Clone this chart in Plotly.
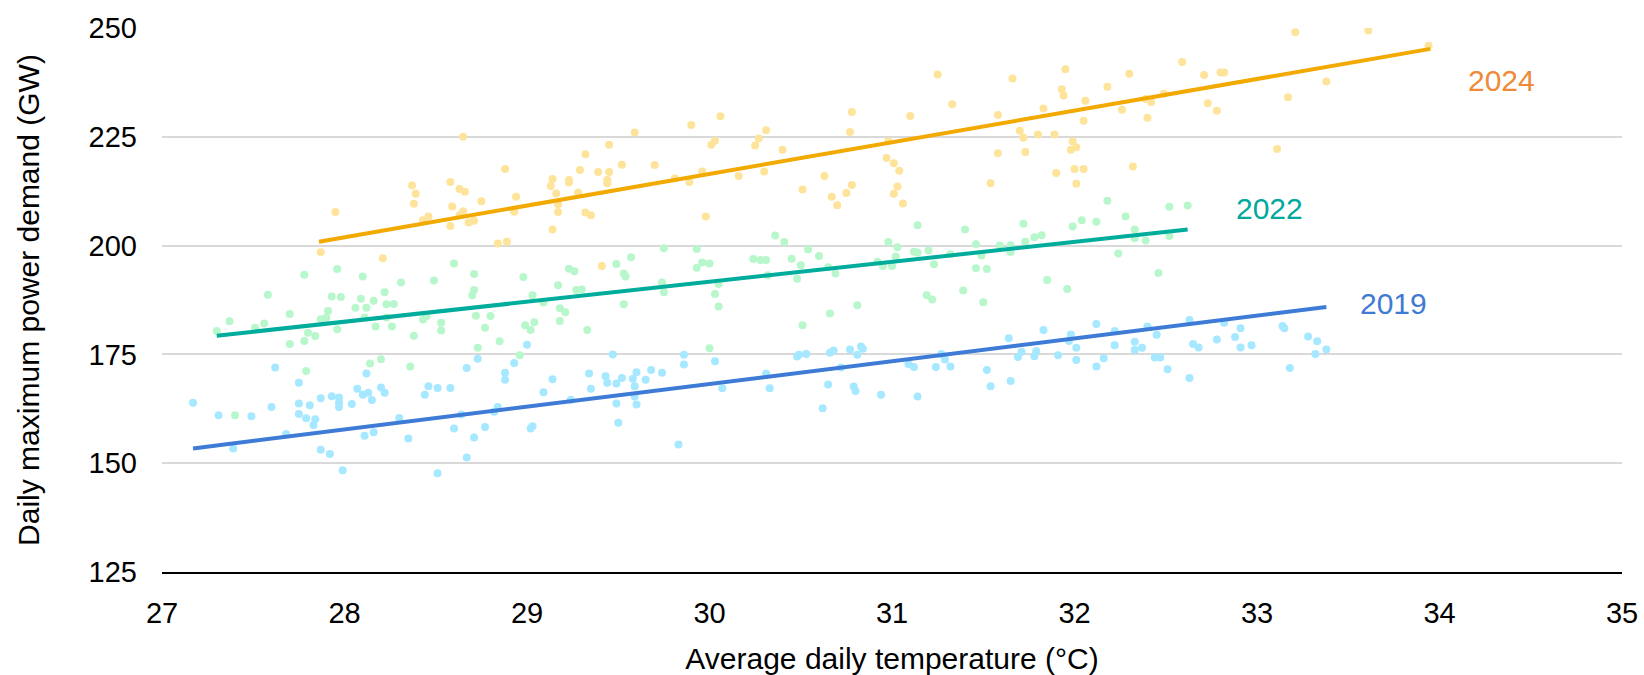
import plotly.graph_objects as go

# ---------------- data ----------------
temp_2019 = [27.62, 27.17, 27.31, 27.49, 27.60, 27.75, 28.12, 28.07, 27.75, 27.81, 27.87, 27.93, 27.97, 27.97, 27.97,
             28.04, 28.10, 28.13, 28.15, 27.75, 27.79, 27.84, 27.83, 27.68, 28.11, 28.16, 27.39, 27.87, 27.92, 27.99,
             29.00, 28.73, 28.67, 28.93, 28.88, 28.88, 29.14, 29.09, 28.20, 28.22, 28.46, 28.51, 28.58, 28.44, 28.30,
             28.64, 28.84, 28.82, 29.24, 28.35, 28.60, 28.71, 28.77, 29.02, 29.03, 28.67, 28.51,
             29.47, 29.86, 29.86, 30.03, 29.34, 29.35, 29.43, 29.44, 29.49, 29.52, 29.58, 29.60, 29.59, 29.59, 29.65,
             29.68, 29.74, 29.49, 29.60, 29.50, 29.83, 30.07, 30.31, 30.33,
             30.48, 30.49, 30.53, 30.66, 30.68, 30.77, 30.81, 30.83, 30.84, 30.72, 31.09, 31.12, 31.24, 31.27, 31.29,
             31.32, 31.52, 31.54, 30.65, 30.79, 30.80, 30.94, 31.14, 30.62,
             32.63, 32.12, 31.83, 31.64, 31.98, 31.97, 32.22, 32.22, 32.01, 32.33, 32.33, 32.37, 32.40, 32.45, 31.71,
             31.69, 31.79, 31.78, 31.91, 32.01, 32.16, 32.12, 32.44, 32.47, 32.51, 32.65, 32.63, 31.65,
             32.82, 32.91, 32.88, 32.78, 32.68, 32.91, 32.97, 33.14, 33.15, 33.28, 33.33, 33.32, 33.38, 33.18]
demand_2019 = [172.0, 163.9, 161.0, 160.8, 162.9, 168.5, 170.6, 167.1, 163.7, 163.3, 164.9, 165.4, 165.1, 163.9, 162.9,
               163.6, 165.7, 166.2, 164.5, 161.3, 160.3, 160.1, 158.8, 156.7, 156.3, 157.1, 153.4, 153.1, 152.1, 148.4,
               177.2, 174.0, 171.9, 173.0, 170.8, 169.2, 169.3, 166.3, 167.4, 166.2, 167.7, 167.3, 167.3, 165.7, 160.4,
               161.2, 162.9, 161.8, 164.6, 155.7, 158.0, 155.9, 158.3, 158.0, 158.5, 151.3, 147.7,
               175.0, 174.9, 172.7, 173.4, 170.6, 167.1, 170.0, 168.5, 168.3, 169.6, 169.4, 170.9, 167.7, 165.3, 169.2,
               171.4, 170.8, 163.7, 163.5, 159.3, 154.3, 167.2, 170.6, 167.2,
               174.5, 174.9, 175.1, 175.4, 175.9, 176.1, 174.9, 176.8, 176.3, 172.0, 172.8, 172.1, 172.1, 175.1, 173.8,
               172.2, 171.4, 167.7, 168.1, 167.6, 166.6, 165.7, 165.3, 162.6,
               182.9, 182.0, 180.6, 178.7, 179.6, 178.1, 180.4, 177.1, 176.5, 177.9, 176.0, 176.5, 181.4, 179.5, 175.6,
               174.4, 175.8, 174.6, 174.8, 173.7, 174.1, 172.2, 174.3, 174.3, 171.6, 177.4, 169.6, 168.9,
               182.3, 181.0, 179.0, 178.4, 176.6, 176.6, 177.1, 181.5, 181.0, 179.1, 178.0, 175.1, 176.1, 171.9]

temp_2022 = [27.96, 27.78, 28.10, 27.58, 27.93, 27.98, 28.09, 28.16, 27.70, 28.06, 28.12, 27.91, 27.37, 27.56, 27.51,
             27.87, 27.90, 28.11, 27.96, 27.80, 27.84, 27.78, 27.70, 27.30, 28.17, 28.14, 27.79, 27.40,
             28.60, 29.23, 28.71, 28.31, 28.49, 28.98, 29.26, 29.17, 28.22, 28.23, 28.27, 28.71, 28.70, 29.03, 29.09,
             29.27, 28.23, 28.43, 28.45, 28.72, 28.80, 29.18, 29.21, 29.18, 28.53, 28.26, 28.53, 28.77, 28.99, 29.04,
             29.02, 28.38, 28.85, 28.73, 28.96, 28.20, 28.36,
             30.36, 30.41, 29.75, 29.93, 29.57, 29.49, 29.96, 30.00, 29.93, 30.24, 30.28, 30.31, 29.53, 29.54, 29.30,
             29.74, 29.75, 30.05, 30.03, 30.05, 30.32, 29.53, 29.33, 30.00,
             31.14, 31.40, 30.98, 31.03, 30.54, 30.60, 30.45, 30.50, 30.92, 31.02, 31.12, 31.14, 31.20, 31.23, 31.32,
             31.46, 31.49, 31.46, 31.52, 30.95, 31.00, 30.65, 30.69, 30.48, 31.39, 31.19, 31.22, 31.50, 30.81, 30.66,
             30.51,
             32.18, 32.52, 32.62, 32.28, 32.04, 32.12, 31.99, 31.72, 31.82, 31.78, 31.73, 32.33, 32.33, 32.39, 32.52,
             31.59, 31.65, 31.65, 32.24, 31.85, 31.96, 32.46]
demand_2022 = [194.6, 193.3, 192.9, 188.7, 188.3, 188.2, 187.8, 187.3, 184.3, 185.7, 185.7, 185.0, 182.6, 182.1, 181.1,
               183.1, 183.4, 183.5, 180.8, 180.0, 179.2, 178.1, 177.4, 180.4, 181.4, 172.9, 171.2, 161.0,
               195.9, 194.7, 193.5, 191.5, 192.0, 192.8, 194.1, 190.9, 189.3, 186.5, 186.6, 189.8, 188.6, 188.6, 186.9,
               189.8, 183.5, 183.0, 183.8, 183.9, 183.8, 185.6, 184.7, 182.7, 182.3, 181.4, 180.5, 181.1, 181.7, 182.4,
               180.6, 179.3, 178.0, 176.5, 174.8, 173.9, 172.2,
               202.3, 200.8, 199.4, 199.2, 197.3, 195.8, 196.1, 195.9, 194.9, 196.9, 196.7, 196.7, 193.6, 192.9, 189.9,
               191.5, 189.3, 191.2, 188.9, 186.0, 193.2, 186.5, 180.6, 176.4,
               204.7, 203.7, 200.8, 199.6, 199.1, 197.6, 197.0, 195.5, 196.3, 197.5, 198.6, 198.4, 198.9, 195.7, 198.0,
               200.3, 197.7, 194.8, 194.6, 195.3, 195.3, 195.0, 193.6, 192.4, 189.7, 188.6, 187.6, 187.0, 186.3, 184.4,
               181.7,
               210.3, 208.9, 209.2, 206.7, 205.8, 205.5, 204.4, 205.0, 202.4, 201.9, 200.9, 203.7, 201.7, 201.2, 202.2,
               200.0, 200.1, 198.5, 198.2, 192.1, 190.0, 193.7]

temp_2024 = [27.95, 27.87, 28.65, 28.88, 28.37, 28.39, 28.38, 28.58, 28.63, 28.66, 28.59, 28.65, 28.63, 28.46, 28.43,
             28.75, 28.58, 28.68, 28.71, 28.94, 28.93, 29.14, 29.13, 29.16, 29.23, 29.23, 29.29, 29.28, 29.17, 29.17,
             29.14, 28.84, 28.89, 28.21,
             30.06, 29.90, 29.59, 30.31, 30.27, 30.25, 30.03, 30.01, 30.40, 29.45, 29.32, 29.39, 29.45, 29.44, 29.44,
             29.52, 29.70, 29.81, 29.89, 29.96, 30.16, 30.30, 29.32, 29.35, 29.98, 29.41,
             31.25, 31.33, 30.78, 31.10, 30.77, 30.98, 30.97, 31.01, 31.04, 31.03, 31.01, 31.06, 30.63, 30.51, 30.78,
             30.75, 30.67, 30.70, 31.54,
             32.59, 31.95, 32.30, 31.66, 31.93, 31.94, 32.18, 32.06, 32.49, 32.39, 32.42, 31.83, 31.58, 32.26, 32.40,
             32.05, 31.70, 31.72, 31.80, 31.89, 31.99, 32.01, 31.98, 31.58, 31.73, 32.32, 32.00, 32.05, 31.90, 32.01,
             33.21, 33.61, 32.71, 32.80, 32.82, 32.73, 32.78, 33.38, 33.17, 33.11, 33.94]
demand_2024 = [207.7, 198.5, 225.0, 217.6, 213.8, 211.9, 209.6, 214.6, 213.0, 212.4, 209.0, 207.9, 207.0, 206.7, 205.8,
               210.2, 204.5, 205.3, 205.7, 211.2, 207.8, 215.3, 213.7, 212.0, 215.1, 214.5, 217.4, 212.2, 209.5, 207.7,
               203.7, 200.5, 200.9, 197.1,
               229.7, 227.7, 226.0, 226.5, 224.6, 223.0, 224.1, 223.2, 222.0, 223.2, 221.0, 216.9, 216.9, 215.1, 214.3,
               218.6, 218.5, 215.4, 214.6, 217.0, 216.0, 217.0, 207.6, 207.0, 206.7, 195.3,
               239.3, 232.5, 230.7, 229.8, 226.1, 224.0, 220.1, 218.9, 217.2, 213.6, 211.9, 209.7, 216.0, 212.9, 213.9,
               212.1, 211.2, 209.3, 214.3,
               242.2, 240.5, 239.5, 238.4, 235.9, 234.5, 236.5, 233.3, 234.9, 233.7, 233.0, 231.5, 230.0, 231.2, 229.4,
               228.7, 226.4, 224.8, 225.5, 225.5, 224.0, 222.6, 222.0, 221.2, 221.5, 218.2, 217.6, 217.6, 216.7, 214.2,
               249.0, 249.4, 239.2, 239.8, 239.8, 232.7, 231.0, 237.7, 234.1, 222.2, 245.9]

# trend line end points (start, end)
trend_temp_2019 = [27.17, 33.38]
trend_demand_2019 = [153.4, 185.9]
trend_temp_2022 = [27.30, 32.62]
trend_demand_2022 = [179.3, 203.7]
trend_temp_2024 = [27.86, 33.95]
trend_demand_2024 = [200.9, 245.2]

years = ["2019", "2022", "2024"]
label_temp = [33.75, 33.07, 34.34]
label_demand = [186.6, 208.5, 237.9]

x_ticks = [27, 28, 29, 30, 31, 32, 33, 34, 35]
y_ticks = [125, 150, 175, 200, 225, 250]

# ---------------- styles ----------------
dot_colors = {"2019": "#A6E8FF", "2022": "#B8F7CC", "2024": "#FDE49A"}
line_colors = {"2019": "#3D7BD6", "2022": "#00AC9C", "2024": "#F2A900"}
label_colors = {"2019": "#3F7AD3", "2022": "#00A99D", "2024": "#EE8A3A"}
FONT = "Liberation Sans, Arial, sans-serif"

series = {
    "2019": (temp_2019, demand_2019, trend_temp_2019, trend_demand_2019),
    "2022": (temp_2022, demand_2022, trend_temp_2022, trend_demand_2022),
    "2024": (temp_2024, demand_2024, trend_temp_2024, trend_demand_2024),
}

fig = go.Figure()
for yr in years:
    tx, ty, _, _ = series[yr]
    fig.add_trace(go.Scatter(
        x=tx, y=ty, mode="markers", name=yr, showlegend=False,
        marker=dict(size=8, color=dot_colors[yr], line=dict(width=0)),
        hoverinfo="x+y",
    ))
for yr in years:
    _, _, lx, ly = series[yr]
    fig.add_trace(go.Scatter(
        x=lx, y=ly, mode="lines", name=yr + " trend", showlegend=False,
        line=dict(color=line_colors[yr], width=4),
        hoverinfo="skip",
    ))

for yr, lt, ld in zip(years, label_temp, label_demand):
    fig.add_annotation(x=lt, y=ld, text=yr, showarrow=False,
                       font=dict(family=FONT, size=30, color=label_colors[yr]),
                       xanchor="center", yanchor="middle")

fig.update_layout(
    width=1644, height=675,
    margin=dict(l=162, r=22, t=28, b=103, autoexpand=False),
    paper_bgcolor="white", plot_bgcolor="white",
    font=dict(family=FONT, size=29, color="#000000"),
    showlegend=False,
)
fig.update_xaxes(
    range=[27, 35], tickvals=x_ticks, ticktext=[str(v) for v in x_ticks],
    showgrid=False, zeroline=False, automargin=False,
    showline=True, linecolor="#000000", linewidth=1.5,
    ticks="", ticklabelstandoff=14,
    tickfont=dict(size=29, color="#000000"),
    title=dict(text="Average daily temperature (°C)", font=dict(size=30, color="#000000"), standoff=30),
)
fig.update_yaxes(
    range=[125, 250], tickvals=y_ticks, ticktext=[str(v) for v in y_ticks],
    showgrid=True, gridcolor="#D9D9D9", gridwidth=2,
    zeroline=False, showline=False, automargin=False,
    ticks="", ticklabelstandoff=24,
    tickfont=dict(size=29, color="#000000"),
    title=dict(text="Daily maximum power demand (GW)", font=dict(size=30, color="#000000"), standoff=40),
)

fig.write_html("out.html")
